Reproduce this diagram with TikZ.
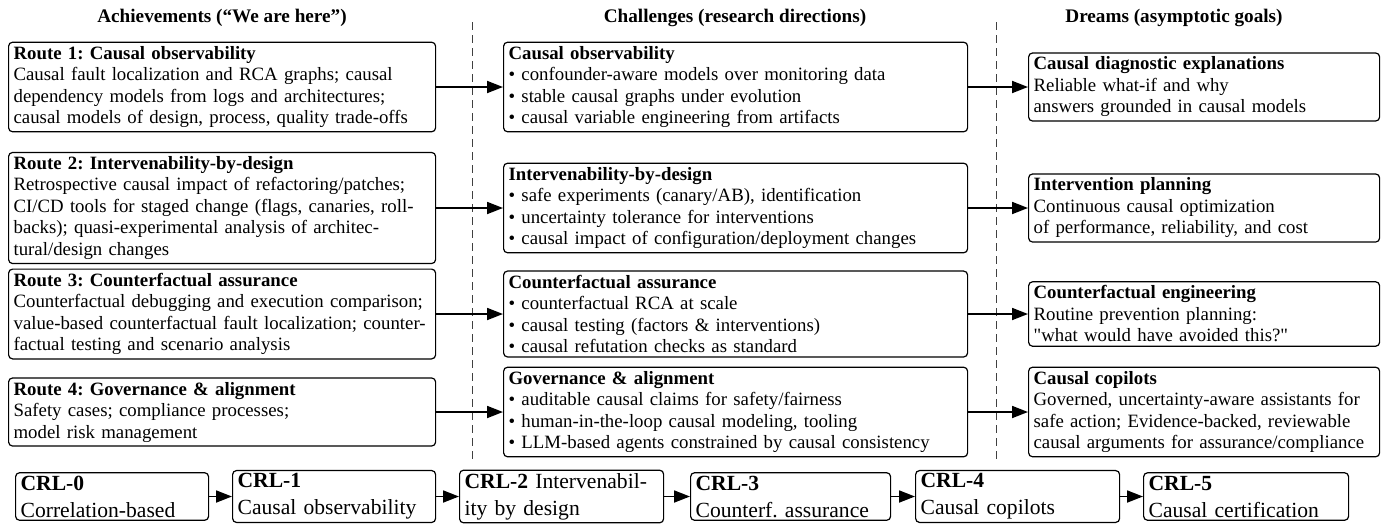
\documentclass[tikz,border=0pt]{standalone}
\usepackage{fontspec}
\setmainfont{Liberation Serif}[Ligatures=TeXOff]
\usetikzlibrary{arrows.meta}
\frenchspacing
\begin{document}
\begin{tikzpicture}[x=0.5pt,y=-0.5pt,
  every node/.style={font=\fontsize{9.4}{10.75}\selectfont},
  box/.style={draw,line width=0.6pt,rounded corners=2pt,align=left,anchor=west,inner xsep=2.5pt,inner ysep=2pt},
  ach/.style={box,text width=208.5pt},
  chal/.style={box,text width=227pt},
  dream/.style={box,text width=170.5pt},
  crl/.style={box,font=\fontsize{10.8}{13.5}\selectfont,inner ysep=1.5pt},
  head/.style={font=\fontsize{9.6}{10.75}\selectfont\bfseries},
  link/.style={-{Triangle[length=8pt,width=6pt]},line width=0.9pt},
  sep/.style={dash pattern=on 4pt off 2.5pt,line width=0.5pt,black!75}]
\useasboundingbox (0,0) rectangle (1385,525);
\node[head] (hach) at (222,18) {Achievements (“We are here”)};
\node[head] (hchal) at (735,18) {Challenges (research directions)};
\node[head] (hdream) at (1174,18) {Dreams (asymptotic goals)};
\draw[sep] (472,22) -- (472,460);
\draw[sep] (996,22) -- (996,460);
\node[ach] (r1) at (8,87) {\textbf{Route 1: Causal observability}\\Causal fault localization and RCA graphs; causal\\dependency models from logs and architectures;\\causal models of design, process, quality trade-offs};
\node[ach] (r2) at (8,208) {\textbf{Route 2: Intervenability-by-design}\\Retrospective causal impact of refactoring/patches;\\CI/CD tools for staged change (flags, canaries, roll-\\backs); quasi-experimental analysis of architec-\\tural/design changes};
\node[ach] (r3) at (8,314) {\textbf{Route 3: Counterfactual assurance}\\Counterfactual debugging and execution comparison;\\value-based counterfactual fault localization; counter-\\factual testing and scenario analysis};
\node[ach] (r4) at (8,412) {\textbf{Route 4: Governance \& alignment}\\Safety cases; compliance processes;\\model risk management};
\node[chal] (c1) at (503,87) {\textbf{Causal observability}\\\textbullet\ confounder-aware models over monitoring data\\\textbullet\ stable causal graphs under evolution\\\textbullet\ causal variable engineering from artifacts};
\node[chal] (c2) at (503,208) {\textbf{Intervenability-by-design}\\\textbullet\ safe experiments (canary/AB), identification\\\textbullet\ uncertainty tolerance for interventions\\\textbullet\ causal impact of configuration/deployment changes};
\node[chal] (c3) at (503,314) {\textbf{Counterfactual assurance}\\\textbullet\ counterfactual RCA at scale\\\textbullet\ causal testing (factors \& interventions)\\\textbullet\ causal refutation checks as standard};
\node[chal] (c4) at (503,412) {\textbf{Governance \& alignment}\\\textbullet\ auditable causal claims for safety/fairness\\\textbullet\ human-in-the-loop causal modeling, tooling\\\textbullet\ LLM-based agents constrained by causal consistency};
\node[dream] (d1) at (1028,87) {\textbf{Causal diagnostic explanations}\\Reliable what-if and why\\answers grounded in causal models};
\node[dream] (d2) at (1028,208) {\textbf{Intervention planning}\\Continuous causal optimization\\of performance, reliability, and cost};
\node[dream] (d3) at (1028,314) {\textbf{Counterfactual engineering}\\Routine prevention planning:\\"what would have avoided this?"};
\node[dream] (d4) at (1028,412) {\textbf{Causal copilots}\\Governed, uncertainty-aware assistants for\\safe action; Evidence-backed, reviewable\\causal arguments for assurance/compliance};
\foreach \i in {1,...,4} {
  \draw[link] (r\i) -- (c\i);
  \draw[link] (c\i) -- (d\i);
}
\node[crl,text width=91.5pt] (crl0) at (15,496.5) {\textbf{CRL-0}\\Correlation-based};
\node[crl,text width=96.5pt] (crl1) at (232,496.5) {\textbf{CRL-1}\\Causal observability};
\node[crl,text width=97pt] (crl2) at (459,496.5) {\textbf{CRL-2} Intervenabil-\\ity by design};
\node[crl,text width=95pt] (crl3) at (690,496.5) {\textbf{CRL-3}\\Counterf. assurance};
\node[crl,text width=97pt] (crl4) at (915,496.5) {\textbf{CRL-4}\\Causal copilots};
\node[crl,text width=97.5pt] (crl5) at (1143,496.5) {\textbf{CRL-5}\\Causal certification};
\foreach \a/\b in {crl0/crl1,crl1/crl2,crl2/crl3,crl3/crl4,crl4/crl5}
  \draw[link] (\a) -- (\b);
\end{tikzpicture}
\end{document}
